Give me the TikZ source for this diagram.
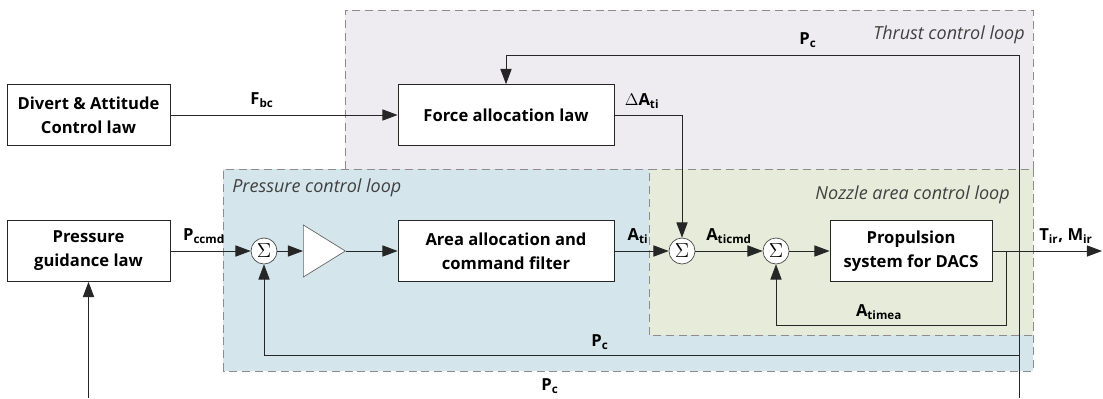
\documentclass[tikz,border=0pt]{standalone}
\usepackage{fontspec}
\setsansfont{Open Sans}
\usepackage{tikz}
\usetikzlibrary{arrows.meta,calc,positioning,shapes.geometric}

\definecolor{thrustfill}{HTML}{EEECF0}
\definecolor{pressfill}{HTML}{D4E6EC}
\definecolor{nozzlefill}{HTML}{E6EBDA}
\newcommand{\sig}[2]{#1\textsubscript{#2}}

\begin{document}
\begin{tikzpicture}[
    font=\sffamily\fontsize{11.8}{17}\selectfont,
    loopbox/.style={draw=black!45, dashed, dash pattern=on 2mm off 1.2mm, line width=0.6pt},
    looplabel/.style={font=\sffamily\itshape\fontsize{12.8}{14}\selectfont, text=black!75, inner sep=0pt},
    block/.style={draw=black!85, fill=white, line width=0.6pt, align=center,
                  font=\sffamily\bfseries\fontsize{11.8}{17}\selectfont,
                  minimum height=15.2mm, inner sep=2pt},
    sumnode/.style={circle, draw=black!70, fill=white, line width=0.5pt,
                    minimum size=6.5mm, inner sep=0pt, font=\Large},
    gainnode/.style={isosceles triangle, isosceles triangle stretches,
                     shape border rotate=0, draw=black!60, fill=white,
                     line width=0.5pt, minimum width=13mm, minimum height=10.5mm,
                     inner sep=0pt},
    signal/.style={font=\sffamily\bfseries\fontsize{11.8}{12}\selectfont, inner sep=0pt},
    arrow/.style={-{Triangle[length=3.8mm, width=2.8mm]}, line width=0.6pt, black!85},
    line/.style={line width=0.6pt, black!85}
]
\useasboundingbox (0,0) rectangle (275.75mm,99.5mm);

% loops
\draw[loopbox, fill=thrustfill] (86.25mm,57.25mm) rectangle (258.25mm,97mm);
\draw[loopbox, fill=pressfill] (55.75mm,6.75mm) rectangle (258.25mm,57.25mm);
\draw[loopbox, fill=nozzlefill] (162.25mm,15.75mm) rectangle (258.25mm,57.25mm);
\node[looplabel, anchor=east] (thrustlbl) at (256.25mm,90.75mm) {Thrust control loop};
\node[looplabel, anchor=west] (presslbl) at (58mm,52.5mm) {Pressure control loop};
\node[looplabel, anchor=east] (nozzlelbl) at (252.5mm,50.75mm) {Nozzle area control loop};

% blocks
\node[block, minimum width=40.75mm] (divert) at (22.125mm,70.75mm) {Divert \& Attitude\\Control law};
\node[block, minimum width=54mm] (force) at (126.5mm,70.75mm) {Force allocation law};
\node[block, minimum width=40.75mm] (guid) at (22.125mm,36.75mm) {Pressure\\guidance law};
\node[sumnode] (sum1) at (66mm,36.75mm) {$\Sigma$};
\node[gainnode, anchor=west] (gain) at (75.75mm,36.75mm) {};
\node[block, minimum width=54mm] (area) at (126.5mm,36.75mm) {Area allocation and\\command filter};
\node[sumnode] (sum2) at (170.5mm,36.75mm) {$\Sigma$};
\node[sumnode] (sum3) at (194mm,36.75mm) {$\Sigma$};
\node[block, minimum width=40.5mm] (prop) at (227.75mm,36.75mm) {Propulsion\\system for DACS};

\coordinate (pctop) at (254.75mm,85.75mm);
\coordinate (pcbot) at (254.75mm,0mm);
\coordinate (pcmid) at (254.75mm,10.75mm);
\coordinate (tap) at (251.5mm,36.75mm);
\coordinate (tapbot) at (251.5mm,18.25mm);
\coordinate (out) at (275.5mm,36.75mm);
\coordinate (guidin) at (22.125mm,0mm);

% connectors
\draw[arrow] (divert) -- (force);
\draw[arrow] (force.east) -| (sum2.north);
\draw[arrow] (guid) -- (sum1);
\draw[arrow] (sum1) -- (gain.west);
\draw[arrow] (gain.east) -- (area);
\draw[arrow] (area) -- (sum2);
\draw[arrow] (sum2) -- (sum3);
\draw[arrow] (sum3) -- (prop);
\draw[arrow] (prop) -- (out);
\draw[arrow] (tap) -- (tapbot) -| (sum3.south);
\draw[arrow] (pcbot) -- (pctop) -| (force.north);
\draw[arrow] (pcmid) -| (sum1.south);
\draw[arrow] (guidin) -- (guid.south);

% signal labels
\node[signal] (fbc) at (65.5mm,74.5mm) {\sig{F}{bc}};
\node[signal] (dati) at (160.5mm,74.25mm) {{\mdseries$\Delta$}\sig{A}{ti}};
\node[signal] (pctoplbl) at (202mm,89.5mm) {\sig{P}{c}};
\node[signal] (pccmd) at (51mm,40.5mm) {\sig{P}{ccmd}};
\node[signal] (ati) at (159.5mm,40.5mm) {\sig{A}{ti}};
\node[signal] (aticmd) at (182.25mm,40.5mm) {\sig{A}{ticmd}};
\node[signal] (timea) at (219.75mm,21.5mm) {\sig{A}{timea}};
\node[signal] (pcin) at (150mm,14mm) {\sig{P}{c}};
\node[signal] (pcout) at (137.5mm,3mm) {\sig{P}{c}};
\node[signal] (tmir) at (266.5mm,40.5mm) {\sig{T}{ir}, \sig{M}{ir}};
\end{tikzpicture}
\end{document}
